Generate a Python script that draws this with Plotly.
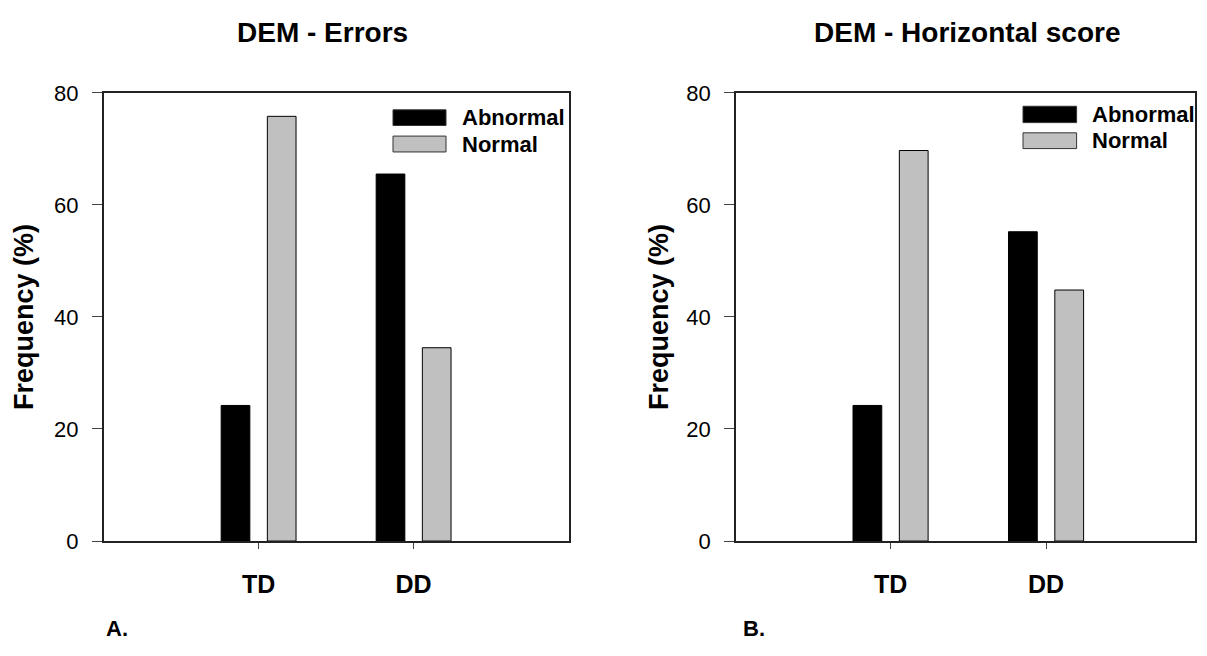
import plotly.graph_objects as go
from plotly.subplots import make_subplots

# ---- data ----
categories = ["TD", "DD"]
series_names = ["Abnormal", "Normal"]
errors_abnormal = [24.2, 65.5]
errors_normal = [75.8, 34.5]
horiz_abnormal = [24.2, 55.2]
horiz_normal = [69.7, 44.8]
panel_titles = ["DEM - Errors", "DEM - Horizontal score"]
panel_letters = ["A.", "B."]
y_ticks = [0, 20, 40, 60, 80]
y_label = "Frequency (%)"

W, H = 1207, 656
FONT = "Arial, Liberation Sans, sans-serif"
colors = ["#000000", "#c0c0c0"]

fig = make_subplots(rows=1, cols=2)

panels = [(errors_abnormal, errors_normal), (horiz_abnormal, horiz_normal)]
for c, (ab, no) in enumerate(panels, start=1):
    for name, vals, col in zip(series_names, (ab, no), colors):
        fig.add_trace(go.Bar(x=categories, y=vals, name=name,
                             marker=dict(color=col, line=dict(color="#000000", width=1)),
                             showlegend=False), row=1, col=c)

def px_x(p):
    return p / W

def px_y(p):
    return 1 - p / H

# domains
x_domains = [[103.6 / W, 568.6 / W], [736 / W, 1195 / W]]
y_domain = [px_y(550), px_y(84)]
x_ranges = [[-1, 2.0], [-0.994, 1.958]]

axis_common = dict(showline=True, linecolor="#222222", linewidth=1.5, mirror=True,
                   showgrid=False, zeroline=False)
for i in range(2):
    xa = "xaxis" if i == 0 else "xaxis2"
    ya = "yaxis" if i == 0 else "yaxis2"
    fig.update_layout({
        xa: dict(domain=x_domains[i], range=x_ranges[i], type="category",
                 ticks="outside", ticklen=6, tickcolor="#444444",
                 tickfont=dict(family=FONT, size=25, color="#000000", weight="bold"),
                 ticklabelstandoff=14, **axis_common),
        ya: dict(domain=y_domain, range=[0, 80], tickvals=y_ticks,
                 ticks="outside", ticklen=10, tickcolor="#444444",
                 tickfont=dict(family=FONT, size=22, color="#000000"),
                 ticklabelstandoff=9, **axis_common),
    })

annotations = []
# titles
title_x = [322, 967]
for t, xc in zip(panel_titles, title_x):
    annotations.append(dict(text=f"<b>{t}</b>", x=px_x(xc), y=px_y(21), xref="paper", yref="paper",
                            xanchor="center", yanchor="middle", showarrow=False,
                            font=dict(family=FONT, size=28, color="#000000")))
# letters
letter_x = [104, 741]
for t, xl in zip(panel_letters, letter_x):
    annotations.append(dict(text=f"<b>{t}</b>", x=px_x(xl), y=px_y(641), xref="paper", yref="paper",
                            xanchor="left", yanchor="middle", showarrow=False,
                            font=dict(family=FONT, size=22, color="#000000")))
# y titles
ytitle_x = [24, 659]
for xc in ytitle_x:
    annotations.append(dict(text=f"<b>{y_label}</b>", x=px_x(xc), y=px_y(317), xref="paper", yref="paper",
                            xanchor="center", yanchor="middle", showarrow=False, textangle=-90,
                            font=dict(family=FONT, size=27, color="#000000")))

# legends (drawn inside each panel)
shapes = []
legend_specs = [
    (393, 446, 460, [(101.7, 118.0, 110.0), (129.0, 145.5, 137.5)]),
    (1023, 1076.6, 1090, [(98.0, 115.0, 106.5), (125.6, 142.0, 134.0)]),
]
for (x0, x1, xt, rows) in legend_specs:
    for name, col, (y0, y1, yt) in zip(series_names, colors, rows):
        shapes.append(dict(type="rect", xref="paper", yref="paper",
                           x0=px_x(x0), x1=px_x(x1), y0=px_y(y1), y1=px_y(y0),
                           fillcolor=col, line=dict(color="#333333", width=1)))
        annotations.append(dict(text=f"<b>{name}</b>", x=px_x(xt), y=px_y(yt), xref="paper", yref="paper",
                                xanchor="left", yanchor="middle", showarrow=False,
                                font=dict(family=FONT, size=22, color="#000000")))

fig.update_layout(
    width=W, height=H,
    margin=dict(l=0, r=0, t=0, b=0),
    paper_bgcolor="white", plot_bgcolor="white",
    barmode="group", bargap=0.404, bargroupgap=0.379,
    annotations=annotations, shapes=shapes,
    showlegend=False,
)

fig.write_html("out.html", config={"displayModeBar": False},
               post_script="document.body.style.margin='0';document.body.style.overflow='hidden';")
